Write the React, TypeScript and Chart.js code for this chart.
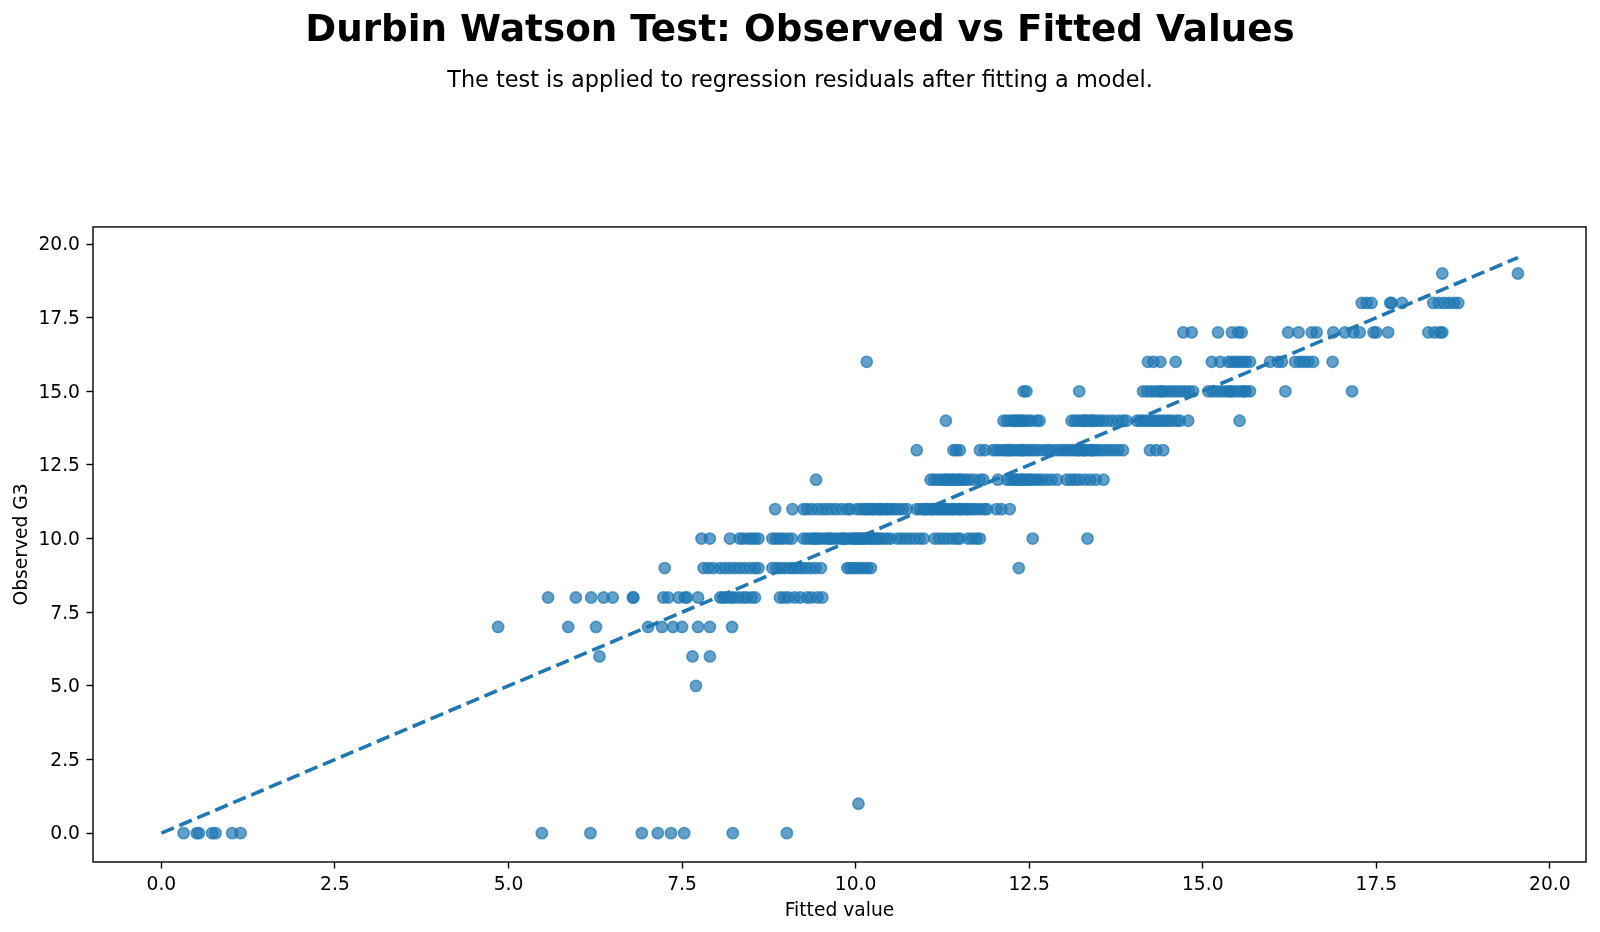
import { useEffect, useRef } from "react";
import { Chart, registerables } from "chart.js";

Chart.register(...registerables);

const FONT = "'DejaVu Sans', 'Liberation Sans', sans-serif";

const TITLE = "Durbin Watson Test: Observed vs Fitted Values";
const SUBTITLE = "The test is applied to regression residuals after fitting a model.";
const X_LABEL = "Fitted value";
const Y_LABEL = "Observed G3";

const TICKS = [0, 2.5, 5, 7.5, 10, 12.5, 15, 17.5, 20];
const X_MIN = -0.985;
const X_MAX = 20.52;
const Y_MIN = -0.98;
const Y_MAX = 20.58;

// identity reference line: y = x over the span of the data
const refLine = [0, 19.54];

// fitted values, grouped by the observed final grade (G3)
const fittedG3_0 = [0.32, 0.51, 0.54, 0.73, 0.78, 1.02, 1.14, 5.48, 6.18, 6.92, 7.15, 7.34, 7.53, 8.23, 9.01];
const fittedG3_1 = [10.04];
const fittedG3_5 = [7.7];
const fittedG3_6 = [6.31, 7.65, 7.9];
const fittedG3_7 = [4.85, 5.86, 6.26, 7.01, 7.21, 7.37, 7.5, 7.73, 7.9, 8.22];
const fittedG3_8 = [
  5.57, 5.97, 6.19, 6.37, 6.5, 6.79, 6.8, 7.23, 7.3, 7.45, 7.54, 7.57, 7.73, 8.05, 8.09, 8.14,
  8.2, 8.24, 8.31, 8.38, 8.43, 8.5, 8.55, 8.91, 8.97, 9.03, 9.12, 9.2, 9.3, 9.36, 9.45, 9.52,
];
const fittedG3_9 = [
  7.25, 7.81, 7.88, 7.95, 8.05, 8.12, 8.19, 8.26, 8.33, 8.4, 8.48, 8.55, 8.6, 8.8, 8.86, 8.92,
  8.98, 9.05, 9.1, 9.16, 9.22, 9.28, 9.35, 9.42, 9.5, 9.88, 9.92, 9.97, 10.02, 10.07, 10.12,
  10.17, 10.22, 12.35,
];
const fittedG3_10 = [
  7.78, 7.9, 8.19, 8.33, 8.38, 8.45, 8.5, 8.55, 8.6, 8.8, 8.85, 8.9, 8.95, 9.02, 9.08, 9.25,
  9.3, 9.35, 9.4, 9.42, 9.45, 9.5, 9.55, 9.6, 9.62, 9.65, 9.7, 9.75, 9.8, 9.82, 9.85, 9.9,
  9.95, 9.97, 10.0, 10.02, 10.05, 10.08, 10.1, 10.12, 10.15, 10.2, 10.22, 10.25, 10.3, 10.32,
  10.35, 10.4, 10.45, 10.5, 10.6, 10.66, 10.72, 10.78, 10.85, 10.92, 10.98, 11.14, 11.2, 11.27,
  11.33, 11.4, 11.46, 11.5, 11.62, 11.68, 11.74, 11.79, 12.55, 13.34,
];
const fittedG3_11 = [
  8.84, 9.09, 9.25, 9.3, 9.37, 9.45, 9.52, 9.58, 9.65, 9.72, 9.8, 9.88, 9.92, 10.02, 10.07,
  10.12, 10.15, 10.17, 10.22, 10.25, 10.27, 10.32, 10.35, 10.37, 10.42, 10.45, 10.47, 10.52,
  10.57, 10.62, 10.68, 10.74, 10.88, 10.93, 10.98, 11.0, 11.03, 11.08, 11.1, 11.13, 11.18,
  11.2, 11.23, 11.28, 11.3, 11.33, 11.38, 11.4, 11.43, 11.48, 11.5, 11.53, 11.58, 11.6, 11.63,
  11.68, 11.73, 11.79, 11.85, 11.89, 12.03, 12.1, 12.22,
];
const fittedG3_12 = [
  9.43, 11.08, 11.13, 11.18, 11.23, 11.28, 11.3, 11.33, 11.38, 11.4, 11.43, 11.48, 11.5, 11.53,
  11.58, 11.63, 11.7, 11.79, 11.84, 12.05, 12.18, 12.23, 12.28, 12.3, 12.33, 12.38, 12.4, 12.43,
  12.48, 12.5, 12.53, 12.58, 12.63, 12.68, 12.75, 12.82, 12.9, 13.04, 13.1, 13.16, 13.22, 13.3,
  13.38, 13.46, 13.57,
];
const fittedG3_13 = [
  10.88, 11.41, 11.45, 11.5, 11.79, 11.86, 11.98, 12.03, 12.08, 12.13, 12.18, 12.2, 12.23,
  12.28, 12.33, 12.38, 12.4, 12.43, 12.48, 12.53, 12.58, 12.63, 12.7, 12.76, 12.8, 12.87, 12.93,
  12.98, 13.03, 13.08, 13.13, 13.18, 13.2, 13.23, 13.28, 13.3, 13.33, 13.38, 13.4, 13.43, 13.48,
  13.53, 13.6, 13.66, 13.72, 13.78, 13.85, 14.24, 14.33, 14.43,
];
const fittedG3_14 = [
  11.3, 12.13, 12.18, 12.23, 12.28, 12.3, 12.33, 12.38, 12.4, 12.43, 12.48, 12.53, 12.61, 12.65,
  13.11, 13.16, 13.21, 13.26, 13.3, 13.31, 13.36, 13.4, 13.41, 13.46, 13.51, 13.56, 13.63, 13.7,
  13.78, 13.85, 13.9, 14.05, 14.1, 14.15, 14.2, 14.25, 14.3, 14.35, 14.4, 14.45, 14.5, 14.55,
  14.62, 14.67, 14.79, 15.53,
];
const fittedG3_15 = [
  12.42, 12.46, 13.22, 14.14, 14.2, 14.26, 14.32, 14.38, 14.4, 14.44, 14.5, 14.56, 14.62, 14.68,
  14.74, 14.8, 14.86, 15.08, 15.14, 15.2, 15.26, 15.32, 15.38, 15.4, 15.44, 15.5, 15.56, 15.6,
  15.62, 15.68, 16.19, 17.15,
];
const fittedG3_16 = [
  10.16, 14.21, 14.29, 14.39, 14.61, 15.13, 15.25, 15.37, 15.42, 15.47, 15.52, 15.57, 15.62,
  15.68, 15.97, 16.08, 16.14, 16.33, 16.4, 16.46, 16.52, 16.59, 16.87,
];
const fittedG3_17 = [
  14.72, 14.84, 15.22, 15.42, 15.51, 15.56, 16.23, 16.38, 16.57, 16.64, 16.88, 17.05, 17.17,
  17.26, 17.46, 17.5, 17.67, 18.25, 18.34, 18.42, 18.45,
];
const fittedG3_18 = [17.29, 17.36, 17.43, 17.7, 17.72, 17.87, 18.32, 18.4, 18.48, 18.55, 18.62, 18.68];
const fittedG3_19 = [18.45, 19.54];

const observedLevels = [0, 1, 5, 6, 7, 8, 9, 10, 11, 12, 13, 14, 15, 16, 17, 18, 19];
const fittedByLevel = [
  fittedG3_0, fittedG3_1, fittedG3_5, fittedG3_6, fittedG3_7, fittedG3_8, fittedG3_9, fittedG3_10,
  fittedG3_11, fittedG3_12, fittedG3_13, fittedG3_14, fittedG3_15, fittedG3_16, fittedG3_17,
  fittedG3_18, fittedG3_19,
];

const framePlugin = {
  id: "axesFrame",
  afterDatasetsDraw(chart: any) {
    const { ctx, chartArea: a } = chart;
    ctx.save();
    ctx.strokeStyle = "#000";
    ctx.lineWidth = 1.4;
    ctx.strokeRect(a.left, a.top, a.right - a.left, a.bottom - a.top);
    ctx.restore();
  },
};

export default function App() {
  const canvasRef = useRef<HTMLCanvasElement | null>(null);

  useEffect(() => {
    if (!canvasRef.current) return;
    Chart.defaults.font.family = FONT;

    const points = observedLevels.flatMap((g, i) => fittedByLevel[i].map((x) => ({ x, y: g })));
    const linePoints = [
      { x: refLine[0], y: refLine[0] },
      { x: refLine[1], y: refLine[1] },
    ];

    const tickCallback = (v: any) => Number(v).toFixed(1);
    const setTicks = (s: any) => {
      s.ticks = TICKS.map((v) => ({ value: v }));
    };

    const chart = new Chart(canvasRef.current, {
      type: "scatter",
      data: {
        datasets: [
          {
            label: "y = x",
            data: linePoints,
            showLine: true,
            borderColor: "#1f77b4",
            borderWidth: 3.6,
            borderDash: [13.5, 6],
            pointRadius: 0,
            pointHoverRadius: 0,
            fill: false,
            order: 0,
          },
          {
            label: "Observed vs fitted",
            data: points,
            backgroundColor: "rgba(31,119,180,0.7)",
            borderColor: "rgba(31,119,180,0.7)",
            borderWidth: 1.6,
            pointRadius: 5.6,
            pointHoverRadius: 5.6,
            order: 1,
          },
        ],
      },
      options: {
        animation: false,
        responsive: false,
        devicePixelRatio: 1,
        events: [],
        layout: { padding: { left: 14, right: 14, top: 0, bottom: 0 } },
        plugins: {
          legend: { display: false },
          tooltip: { enabled: false },
          title: {
            display: true,
            text: TITLE,
            color: "#000",
            font: { family: FONT, size: 37.3, weight: "bold", lineHeight: 1.2 },
            padding: { top: 9.2, bottom: 0 },
          },
          subtitle: {
            display: true,
            text: SUBTITLE,
            color: "#000",
            font: { family: FONT, size: 22.4, lineHeight: 1.2 },
            padding: { top: 13.7, bottom: 132.4 },
          },
        },
        scales: {
          x: {
            type: "linear",
            min: X_MIN,
            max: X_MAX,
            afterBuildTicks: setTicks,
            afterFit: (s: any) => {
              s.height = 70;
            },
            ticks: {
              callback: tickCallback,
              color: "#000",
              font: { family: FONT, size: 18.7 },
              padding: 5.5,
              maxRotation: 0,
              autoSkip: false,
            },
            grid: { drawOnChartArea: false, drawTicks: true, tickLength: 6.5, color: "#000", tickWidth: 1.4 },
            border: { display: false },
            title: {
              display: true,
              text: X_LABEL,
              color: "#000",
              font: { family: FONT, size: 18.7, lineHeight: 1.2 },
              padding: { top: 0, bottom: 9.8 },
            },
          },
          y: {
            type: "linear",
            min: Y_MIN,
            max: Y_MAX,
            afterBuildTicks: setTicks,
            afterFit: (s: any) => {
              s.width = 79;
            },
            ticks: {
              callback: tickCallback,
              color: "#000",
              font: { family: FONT, size: 18.7 },
              padding: 6.5,
              labelOffset: 1.5,
              autoSkip: false,
            },
            grid: { drawOnChartArea: false, drawTicks: true, tickLength: 6.5, color: "#000", tickWidth: 1.4 },
            border: { display: false },
            title: {
              display: true,
              text: Y_LABEL,
              color: "#000",
              font: { family: FONT, size: 18.7, lineHeight: 0.8 },
              padding: { top: 0.6, bottom: 0 },
            },
          },
        },
      },
      plugins: [framePlugin],
    });

    return () => chart.destroy();
  }, []);

  return (
    <div style={{ position: "fixed", left: 0, top: 0, width: 1600, height: 932, background: "#fff" }}>
      <canvas ref={canvasRef} width={1600} height={932} style={{ display: "block", width: 1600, height: 932 }} />
    </div>
  );
}
